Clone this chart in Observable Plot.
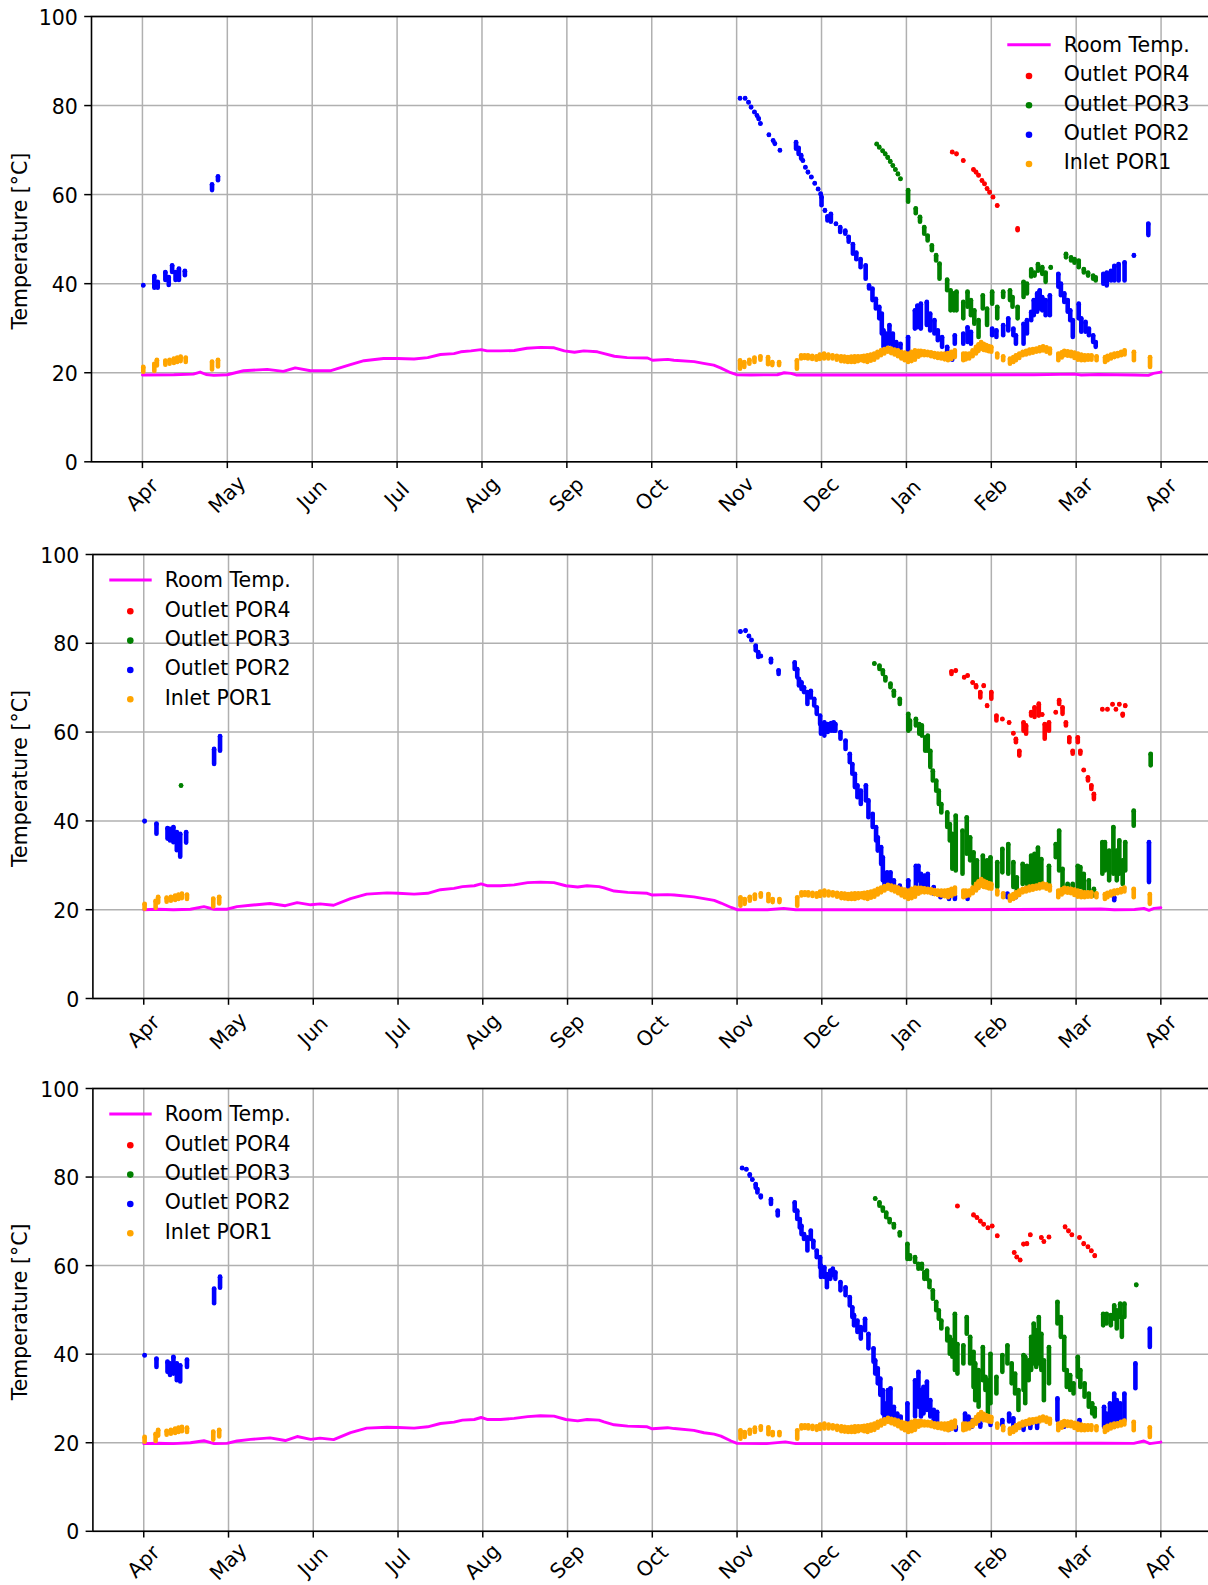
<!DOCTYPE html>
<html>
<head>
<meta charset="utf-8">
<script src="https://cdn.jsdelivr.net/npm/d3@7"></script>
<script src="https://cdn.jsdelivr.net/npm/@observablehq/plot@0.6"></script>
<style>
  html, body { margin: 0; padding: 0; background: #fff; overflow: hidden; }
  #fig { position: relative; width: 1208px; height: 1585px; overflow: hidden; background: #fff; }
  #fig svg { position: absolute; left: 0; }
</style>
</head>
<body>
<div id="fig"></div>
<script>
// x positions are months since 1 April (0 = Apr, 12 = the following Apr)
const monthLabels = ["Apr", "May", "Jun", "Jul", "Aug", "Sep", "Oct", "Nov", "Dec", "Jan", "Feb", "Mar", "Apr"];
const yTicks = [0, 20, 40, 60, 80, 100];
const seriesNames = ["Room Temp.", "Outlet POR4", "Outlet POR3", "Outlet POR2", "Inlet POR1"];
const seriesColors = ["#ff00ff", "#ff0000", "#008000", "#0000ff", "#ffa500"];
const yLabel = "Temperature [°C]";

// Room temperature, one trace per panel: [month, °C]
const roomTemp1 = [[0,19.5],[0.37,19.55],[0.6,19.7],[0.68,20.15],[0.75,19.6],[0.84,19.4],[1.0,19.55],[1.19,20.45],[1.47,20.75],[1.66,20.3],[1.8,21.1],[1.98,20.45],[2.22,20.45],[2.45,21.8],[2.61,22.7],[2.84,23.2],[3.0,23.2],[3.2,23.1],[3.36,23.4],[3.51,24.1],[3.67,24.3],[3.75,24.7],[3.87,24.9],[3.99,25.2],[4.06,24.9],[4.22,24.9],[4.38,25.0],[4.53,25.5],[4.69,25.7],[4.85,25.6],[4.97,24.9],[5.09,24.6],[5.2,24.9],[5.36,24.7],[5.44,24.3],[5.56,23.7],[5.71,23.4],[5.95,23.3],[6.01,22.8],[6.19,23.0],[6.26,22.8],[6.5,22.5],[6.61,22.1],[6.73,21.7],[6.81,21.1],[6.93,20.0],[7.0,19.55],[7.17,19.5],[7.48,19.55],[7.56,20.0],[7.64,19.85],[7.7,19.5],[8.9,19.5],[10.5,19.55],[10.98,19.7],[11.06,19.5],[11.26,19.6],[11.69,19.5],[11.85,19.4],[11.91,19.85],[12.0,20.15]];
const roomTemp2 = [[0,20.0],[0.16,20.1],[0.35,20.0],[0.55,20.1],[0.71,20.7],[0.83,20.1],[0.98,20.1],[1.1,20.7],[1.26,21.0],[1.49,21.4],[1.67,20.9],[1.81,21.6],[1.97,21.1],[2.08,21.3],[2.24,21.0],[2.44,22.5],[2.63,23.5],[2.87,23.8],[3.0,23.7],[3.19,23.5],[3.35,23.7],[3.5,24.5],[3.66,24.8],[3.76,25.2],[3.9,25.4],[3.98,25.8],[4.05,25.4],[4.21,25.4],[4.37,25.6],[4.53,26.1],[4.68,26.2],[4.84,26.1],[4.98,25.4],[5.12,25.1],[5.23,25.4],[5.37,25.2],[5.43,24.9],[5.55,24.2],[5.71,23.9],[5.94,23.7],[6.0,23.3],[6.18,23.4],[6.26,23.3],[6.49,22.9],[6.61,22.5],[6.73,22.1],[6.81,21.5],[6.93,20.5],[7.0,20.0],[7.36,20.0],[7.55,20.3],[7.69,20.0],[9.32,20.0],[10.98,20.1],[11.29,20.15],[11.45,20.0],[11.69,20.05],[11.8,20.3],[11.86,19.85],[11.92,20.3],[12.0,20.45]];
const roomTemp3 = [[0,19.8],[0.16,19.9],[0.35,19.8],[0.55,20.0],[0.71,20.45],[0.83,19.8],[0.98,19.85],[1.1,20.4],[1.26,20.75],[1.49,21.1],[1.67,20.5],[1.81,21.4],[1.97,20.75],[2.08,21.05],[2.24,20.7],[2.44,22.3],[2.63,23.3],[2.87,23.5],[3.0,23.45],[3.19,23.3],[3.35,23.6],[3.5,24.35],[3.66,24.65],[3.76,25.1],[3.9,25.25],[3.98,25.7],[4.05,25.25],[4.21,25.25],[4.37,25.5],[4.53,25.9],[4.68,26.1],[4.84,26.0],[4.98,25.25],[5.12,24.95],[5.23,25.25],[5.37,25.1],[5.43,24.7],[5.55,24.05],[5.71,23.75],[5.94,23.6],[6.0,23.15],[6.18,23.4],[6.26,23.2],[6.49,22.8],[6.61,22.25],[6.73,21.95],[6.81,21.5],[6.93,20.4],[7.0,19.85],[7.35,19.8],[7.57,20.2],[7.69,19.8],[9.32,19.8],[10.97,19.9],[11.29,19.9],[11.68,19.85],[11.8,20.4],[11.87,19.8],[12.0,20.15]];

// Inlet POR1 (same inlet sensor in every panel): [month, high °C, low °C]
const inletPOR1 = [[0.01,21.2,20.1],[0.14,21.9,20.3],[0.17,22.8,21.5],[0.27,22.6,21.7],[0.32,22.8,21.9],[0.37,23.1,22.1],[0.41,23.3,22.3],[0.45,23.5,22.5],[0.51,23.3,22.3],[0.82,22.4,20.6],[0.89,22.8,21.3],
  [7.04,22.7,20.8],[7.09,22.3,21.2],[7.15,22.8,21.9],[7.21,23.3,22.3],[7.28,23.6,22.8],[7.37,23.4,21.8],[7.42,22.3,21.6],[7.5,22.3,21.6],[7.71,22.7,20.8],[7.76,23.8,23.1],[7.8,23.8,23.2],[7.84,23.8,23.1],[7.89,23.7,23.0],[7.94,23.6,22.8],[7.98,24.0,23.0],[8.03,24.2,23.1],[8.08,24.0,23.1],[8.13,23.8,23.1],[8.18,23.7,22.8],[8.23,23.6,22.5],[8.27,23.5,22.4],[8.31,23.4,22.3],[8.35,23.5,22.3],[8.39,23.6,22.3],[8.43,23.6,22.5],[8.47,23.6,22.7],[8.5,23.7,22.5],[8.54,23.8,22.3],[8.58,24.0,22.6],[8.62,24.2,22.8],[8.66,24.6,23.3],[8.7,24.9,23.8],[8.74,25.2,24.2],[8.78,25.5,24.6],[8.82,25.3,24.3],[8.86,25.1,24.0],[8.9,24.9,23.6],[8.94,24.6,23.1],[8.98,24.4,22.7],[9.02,24.2,22.3],[9.06,24.6,22.5],[9.1,24.9,22.8],[9.14,24.8,23.5],[9.17,24.8,23.8],[9.21,24.7,23.8],[9.25,24.6,23.8],[9.29,24.5,23.6],[9.33,24.3,23.4],[9.37,24.2,23.2],[9.41,24.2,23.1],[9.45,24.2,22.9],[9.49,24.3,22.7],[9.53,24.6,23.0],[9.57,24.9,23.4],[9.67,24.2,22.7],[9.7,24.2,22.9],[9.74,24.2,23.1],[9.78,24.9,23.6],[9.82,25.7,24.2],[9.85,26.3,24.8],[9.88,26.8,25.3],[9.91,26.4,25.0],[9.94,26.1,24.9],[9.97,25.9,24.7],[10.0,25.7,24.6],[10.07,24.2,23.3],[10.14,23.6,22.7],[10.22,23.1,21.9],[10.26,23.4,22.3],[10.29,23.8,22.7],[10.33,24.2,23.2],[10.37,24.6,23.8],[10.41,24.8,24.0],[10.45,25.1,24.2],[10.49,25.2,24.4],[10.53,25.3,24.6],[10.57,25.6,24.7],[10.61,25.8,24.9],[10.65,25.6,24.6],[10.69,25.3,24.2],[10.79,24.2,22.7],[10.83,24.5,23.3],[10.86,24.8,23.8],[10.9,24.7,23.7],[10.94,24.6,23.6],[10.98,24.4,23.2],[11.02,24.2,22.8],[11.06,24.0,22.7],[11.1,23.8,22.7],[11.14,23.8,22.8],[11.18,23.8,22.8],[11.24,23.6,22.7],[11.34,23.4,22.3],[11.37,23.7,22.7],[11.41,24.0,23.1],[11.45,24.2,23.4],[11.49,24.3,23.6],[11.53,24.6,23.8],[11.57,24.9,24.0],[11.68,24.6,22.7],[11.87,23.4,21.2]];

// Outlet POR2, per panel: [month, high °C, low °C] (a single value is one reading)
const outletPOR2_1 = [[0.01,39.6],[0.14,41.6,39.0],[0.18,40.3,39.0],[0.27,42.5,40.7],[0.31,41.4,39.6],[0.35,44.0,42.5],[0.39,42.5,40.7],[0.43,43.3,40.7],[0.5,42.8,41.8],[0.82,62.2,60.9],[0.89,64.0,63.1],
  [7.04,81.6],[7.1,81.6],[7.14,80.7],[7.17,79.6],[7.21,78.5],[7.24,77.7],[7.26,77.0],[7.28,75.9],[7.38,73.4],[7.43,72.1],[7.45,71.4],[7.51,69.9],[7.7,71.7,70.2],[7.73,70.4,69.0],[7.76,68.8,68.0],[7.78,67.6],[7.81,66.1],[7.84,65.0],[7.88,63.9],[7.92,62.5],[7.96,61.2],[7.99,60.1],[8.0,59.4,57.5],[8.04,56.4],[8.07,55.0,54.1],[8.11,55.6,53.8],[8.17,53.4],[8.22,52.6,51.5],[8.28,51.8,51.1],[8.32,50.4,49.3],[8.37,48.8,46.6],[8.41,46.9,45.4],[8.46,45.4,43.6],[8.52,44.0,41.0],[8.56,39.5,38.8],[8.6,38.8,36.2],[8.64,36.5,34.3],[8.68,34.7,32.1],[8.71,33.2,28.7],[8.73,29.4,25.7],[8.76,28.7,25.3],[8.8,30.6,26.4],[8.84,28.7,25.7],[8.88,26.8,25.3],[8.93,26.4,25.3],[9.02,27.9,24.9],[9.1,33.9,29.8],[9.13,35.0,30.1],[9.17,35.4,29.8],[9.24,35.8,30.6],[9.28,33.2,29.4],[9.33,31.7,28.7],[9.37,29.4,27.2],[9.42,27.9,25.7],[9.48,25.7,24.6],[9.54,23.8,22.8],[9.57,28.3,26.4],[9.67,28.7,26.4],[9.72,30.1,26.8],[9.76,29.1,26.4],[10.01,29.8,28.3],[10.06,29.4,27.9],[10.14,30.6,28.3],[10.2,32.1,29.4],[10.26,29.8,28.3],[10.29,28.3,26.4],[10.38,30.9,26.4],[10.42,31.7,28.7],[10.47,33.6,31.7],[10.5,36.2,32.8],[10.54,37.7,33.6],[10.57,38.4,34.3],[10.6,36.9,33.9],[10.64,36.2,32.8],[10.69,37.3,32.8],[10.79,42.1,39.2],[10.82,39.9,37.3],[10.86,37.7,35.8],[10.9,36.2,33.6],[10.93,33.9,31.7],[10.96,31.7,27.9],[11.03,35.4,32.1],[11.06,32.1,29.1],[11.11,31.3,29.1],[11.15,29.8,28.3],[11.2,28.3,26.8],[11.23,26.8,25.7],[11.32,42.1,39.9],[11.36,42.4,39.5],[11.41,42.8,40.6],[11.45,43.9,40.6],[11.5,44.3,40.6],[11.57,44.7,40.6],[11.68,46.3],[11.85,53.4,50.8]];
const outletPOR2_2 = [[0.01,39.9],[0.15,39.3,37.0],[0.28,38.3,35.9],[0.31,38.1,35.5],[0.35,38.5,35.1],[0.39,37.4,33.3],[0.43,37.0,31.8],[0.5,37.4,35.0],[0.83,56.1,52.7],[0.9,59.0,55.7],
  [7.04,82.6],[7.1,82.8],[7.14,81.6],[7.17,80.7],[7.22,79.4,78.3],[7.25,77.9,76.8],[7.28,77.1],[7.4,76.4,75.6],[7.49,73.8,73.0],[7.68,75.6,74.1],[7.71,74.1,72.3],[7.73,71.9,70.4],[7.76,71.1,69.6],[7.79,70.0,68.9],[7.83,68.9,66.2],[7.87,69.2,67.7],[7.91,67.4,65.9],[7.94,65.5,64.0],[7.98,63.6,61.7],[7.99,61.7,59.5],[8.03,62.1,59.1],[8.07,61.7,59.9],[8.11,61.9,60.2],[8.14,62.1,60.2],[8.16,61.7,60.2],[8.22,59.9,58.4],[8.28,58.0,56.1],[8.33,55.0,53.1],[8.36,52.7,50.5],[8.39,50.5,47.5],[8.42,47.9,45.2],[8.46,46.7,43.7],[8.52,47.9,44.5],[8.55,44.5,40.7],[8.6,41.5,38.5],[8.64,38.5,35.5],[8.66,36.2,33.2],[8.7,34.0,30.2],[8.72,31.7,26.5],[8.74,28.0,25.3],[8.77,28.3,25.7],[8.81,28.3,25.7],[8.85,26.5,25.0],[8.92,25.3,23.8],[9.02,26.5,22.7],[9.11,29.8,25.0],[9.14,29.8,26.5],[9.17,28.0,25.0],[9.21,27.6,25.0],[9.25,28.0,25.0],[9.32,25.0,23.5],[9.4,23.8,22.7],[9.5,23.5,22.3],[9.57,23.1,22.3],[9.72,23.1,22.3],[10.19,23.5,22.7],[10.29,23.5,22.7],[11.45,22.7,22.0],[11.86,35.1,26.1]];
const outletPOR2_3 = [[0.01,39.7],[0.15,38.9,37.0],[0.28,38.2,35.9],[0.31,37.8,35.2],[0.35,39.3,35.5],[0.39,37.8,34.0],[0.43,37.4,33.7],[0.51,38.7,37.0],[0.83,54.7,51.4],[0.9,57.4,54.9],
  [7.06,82.0],[7.11,81.7],[7.15,80.5,80.2],[7.18,79.4],[7.22,78.3,77.5],[7.24,77.2,76.4],[7.28,75.7,75.3],[7.4,74.9,73.8],[7.48,72.3,71.2],[7.68,74.2,72.3],[7.71,72.3,70.4],[7.74,70.4,68.5],[7.76,68.9,67.0],[7.79,67.0,65.9],[7.83,66.3,63.3],[7.87,67.8,65.9],[7.9,65.5,64.0],[7.94,63.3,61.8],[7.98,61.8,59.5],[7.99,59.9,57.3],[8.03,59.5,57.3],[8.06,58.0,55.0],[8.1,58.8,56.9],[8.13,59.2,57.7],[8.16,58.4,56.9],[8.22,56.2,54.3],[8.28,55.0,53.2],[8.33,52.8,50.9],[8.36,50.5,48.3],[8.38,48.7,46.4],[8.42,47.5,44.9],[8.46,46.0,43.4],[8.51,47.9,45.3],[8.55,44.5,41.2],[8.61,41.2,38.2],[8.63,38.5,35.5],[8.66,36.7,33.3],[8.69,34.4,30.7],[8.72,31.8,26.5],[8.74,28.8,25.4],[8.78,31.8,25.8],[8.81,32.2,25.8],[8.85,28.0,25.4],[8.89,26.5,25.0],[8.93,25.8,24.7],[9.01,28.8,24.3],[9.1,34.0,25.8],[9.14,35.9,28.0],[9.17,31.8,25.8],[9.2,32.5,26.5],[9.24,33.7,27.3],[9.28,29.5,25.8],[9.32,27.3,25.0],[9.36,26.9,24.7],[9.5,23.9,22.8],[9.58,23.5,22.8],[9.69,26.5,24.3],[9.73,25.8,24.7],[9.77,25.0,23.5],[9.87,24.3,23.5],[9.99,24.7,23.9],[10.13,25.0,23.9],[10.21,26.5,24.7],[10.26,25.4,23.2],[10.38,23.5,22.8],[10.46,23.9,23.2],[10.54,24.3,23.2],[10.78,29.9,25.0],[10.86,24.3,23.5],[11.04,25.0,24.3],[11.33,28.0,23.5],[11.36,26.5,23.9],[11.4,28.8,24.3],[11.45,31.0,24.3],[11.48,29.5,24.3],[11.52,28.8,24.7],[11.57,31.0,25.0],[11.7,37.8,32.2],[11.87,45.7,41.5]];

// Outlet POR3, per panel
const outletPOR3_1 = [[8.65,71.3],[8.68,70.6],[8.72,69.8],[8.75,69.1],[8.78,68.3],[8.81,67.4],[8.84,66.5],[8.87,65.6],[8.9,64.6],[8.93,63.5],[9.02,60.9,58.3],[9.11,56.8,55.7],[9.16,54.9,53.8],[9.21,52.6,51.1],[9.25,50.7,49.6],[9.3,48.5,47.4],[9.35,46.3,45.1],[9.39,44.4,41.0],[9.48,40.8,38.4],[9.52,38.4,33.9],[9.56,37.7,33.9],[9.59,38.1,33.9],[9.67,35.8,32.1],[9.72,38.1,34.7],[9.76,36.2,32.8],[9.8,33.9,30.9],[9.85,31.7,27.9],[9.9,37.3,34.3],[9.95,34.3,30.6],[10.01,38.1,35.4],[10.07,34.7,32.1],[10.14,38.1,36.9],[10.22,38.4,36.2],[10.25,36.9,34.7],[10.31,34.7,32.1],[10.38,40.3,36.9],[10.42,39.9,37.7],[10.47,43.1,41.5],[10.51,42.4,41.7],[10.55,44.3,42.8],[10.6,43.6,42.1],[10.64,42.4,40.3],[10.7,43.6],[10.88,46.6,45.8],[10.94,45.8,45.1],[10.98,45.4,44.6],[11.03,45.1,43.6],[11.09,43.2,42.4],[11.14,42.4,41.7],[11.2,41.7,41.0],[11.23,41.3,40.6]];
const outletPOR3_2 = [[0.44,47.9],
  [8.62,75.4],[8.68,74.9,74.1],[8.72,73.8,73.0],[8.75,72.3,71.5],[8.81,70.8,70.0],[8.85,69.2,68.1],[8.92,67.4,66.2],[9.02,64.0,60.2],[9.04,62.5,60.6],[9.11,62.9,61.4],[9.15,61.7,59.5],[9.18,61.4,59.1],[9.22,58.7,55.7],[9.25,59.1,55.7],[9.28,55.7,52.0],[9.31,51.2,49.0],[9.35,49.0,46.7],[9.38,46.7,43.7],[9.41,43.7,41.8],[9.48,41.8,38.5],[9.51,39.2,35.5],[9.54,37.0,29.1],[9.58,41.1,28.7],[9.66,37.7,28.0],[9.71,40.7,32.5],[9.75,36.2,31.0],[9.79,32.8,25.7],[9.83,31.0,25.7],[9.9,32.1,26.5],[9.95,31.0,25.0],[9.99,31.7,25.7],[10.07,30.6,25.0],[10.13,33.6,28.3],[10.2,34.7,28.0],[10.26,30.6,25.0],[10.3,27.2,24.2],[10.37,30.2,25.7],[10.42,29.8,25.7],[10.47,32.1,25.7],[10.51,32.5,25.7],[10.55,33.9,25.7],[10.59,31.3,25.7],[10.68,29.8,25.0],[10.76,34.7,31.7],[10.8,37.7,28.7],[10.84,29.1,25.0],[10.9,25.7,24.2],[10.96,25.7,24.2],[11.02,29.8,25.0],[11.05,29.5,25.0],[11.09,28.0,24.2],[11.15,26.5,23.5],[11.21,24.6,23.1],[11.31,35.1,28.0],[11.34,35.1,28.7],[11.39,33.2,26.5],[11.44,38.5,28.0],[11.48,33.2,26.5],[11.51,35.5,28.0],[11.55,31.0,25.7],[11.58,35.1,28.7],[11.68,42.2,38.8],[11.88,55.0,52.4]];
const outletPOR3_3 = [[8.63,75.1],[8.68,74.2,73.4],[8.72,73.0,72.3],[8.76,71.9,70.8],[8.8,70.4,69.7],[8.85,69.3,68.5],[8.92,67.4,66.7],[9.01,64.8,61.4],[9.04,62.2,61.4],[9.1,61.8,60.7],[9.14,60.3,59.2],[9.18,60.3,59.2],[9.21,58.4,56.9],[9.24,58.8,56.9],[9.27,56.5,55.0],[9.31,54.3,52.4],[9.35,51.7,49.8],[9.38,49.8,47.9],[9.41,47.5,45.7],[9.48,45.7,43.0],[9.51,43.8,40.0],[9.54,43.0,39.3],[9.57,49.0,36.3],[9.6,42.2,35.5],[9.67,41.9,37.8],[9.71,48.3,44.5],[9.75,43.8,37.8],[9.79,40.4,32.5],[9.81,37.8,29.5],[9.85,36.3,28.0],[9.9,41.5,34.0],[9.93,34.8,31.8],[9.96,34.0,26.5],[9.99,40.0,28.8],[10.06,34.8,31.0],[10.13,39.7,35.9],[10.19,41.9,37.8],[10.24,37.8,33.3],[10.28,35.5,31.0],[10.32,31.8,27.3],[10.38,39.7,31.8],[10.4,39.3,28.8],[10.44,38.5,34.0],[10.47,43.8,36.3],[10.5,46.8,37.8],[10.53,45.3,37.0],[10.56,48.3,37.8],[10.59,44.5,36.3],[10.62,38.5,29.5],[10.68,41.5,33.3],[10.78,51.7,46.8],[10.82,48.3,43.8],[10.86,43.8,36.3],[10.89,36.3,32.5],[10.93,35.2,31.8],[10.97,33.3,31.0],[11.02,39.3,34.8],[11.05,36.3,32.5],[11.1,33.3,30.3],[11.15,31.0,28.0],[11.19,28.8,26.5],[11.22,27.7,25.8],[11.32,49.0,46.4],[11.36,49.0,46.8],[11.41,48.7,46.4],[11.45,50.9,47.9],[11.48,49.8,45.7],[11.52,51.3,48.3],[11.54,48.3,43.8],[11.57,51.3,48.3],[11.71,55.6]];

// Outlet POR4, per panel
const outletPOR4_1 = [[9.54,69.5],[9.59,69.1],[9.67,67.6],[9.79,65.6],[9.82,65.0],[9.85,64.3],[9.89,63.1],[9.92,62.4],[9.95,61.3],[9.98,60.5],[10.02,59.4],[10.07,57.5],[10.31,52.3,51.9]];
const outletPOR4_2 = [[9.53,73.6,73.0],[9.58,73.8],[9.68,72.3],[9.72,72.7],[9.78,71.1],[9.82,70.4,70.0],[9.87,68.9,67.7],[9.91,70.4],[9.95,65.9],[10.0,68.9,67.4],[10.06,63.6,62.5],[10.13,62.9],[10.21,62.1],[10.26,59.7],[10.29,58.4,57.6],[10.33,55.7,54.6],[10.38,62.1,60.2],[10.41,61.4,59.5],[10.47,64.4,63.6],[10.51,65.5,63.3],[10.56,66.3,63.6],[10.6,63.9],[10.63,61.7,58.4],[10.68,62.1,60.2],[10.76,64.4],[10.8,67.1,66.2],[10.84,65.5,64.0],[10.88,62.1,61.4],[10.92,58.7,57.6],[10.96,55.7,55.0],[11.02,58.7,57.6],[11.05,55.7,55.0],[11.09,51.4],[11.14,49.7,49.0],[11.18,47.9,47.1],[11.21,46.0,44.8],[11.31,65.1],[11.37,65.1],[11.43,66.2],[11.47,65.1],[11.51,66.2],[11.55,64.0,63.6],[11.58,65.9]];
const outletPOR4_3 = [[9.6,73.4],[9.79,71.4],[9.83,70.8],[9.87,70.0],[9.91,69.3],[9.96,68.5],[10.01,68.9],[10.07,66.7],[10.27,62.9],[10.3,61.9],[10.34,61.2],[10.38,64.8],[10.42,64.9],[10.46,66.9],[10.59,66.3],[10.62,65.4],[10.68,66.4],[10.87,68.7],[10.91,67.8],[10.95,66.9],[11.04,66.3],[11.09,64.9],[11.14,64.2],[11.18,63.3],[11.22,62.2]];

// Panel frames and legend placement (pixels inside each panel's SVG)
const FONT = '"DejaVu Sans", "Liberation Sans", sans-serif';
const FONT_SIZE = 20.5;
const SVG_W = 1212;
const panels = [
  {top: 0, height: 530, x0: 91, x1: 1211.5, yTop: 16, yBottom: 461.3, labelDy: 33,
   room: roomTemp1, por2: outletPOR2_1, por3: outletPOR3_1, por4: outletPOR4_1,
   legend: {line: [1007.3, 1050.7], dotX: 1029, textX: 1063.7, rows: [44.7, 76, 105.3, 134.7, 164]}},
  {top: 537.5, height: 530, x0: 92.4, x1: 1211.2, yTop: 16, yBottom: 460, labelDy: 33,
   room: roomTemp2, por2: outletPOR2_2, por3: outletPOR3_2, por4: outletPOR4_2,
   legend: {line: [109.3, 151.7], dotX: 130.3, textX: 164.7, rows: [42, 73.2, 102.6, 132, 161.3]}},
  {top: 1072.2, height: 512.8, x0: 92.4, x1: 1211.2, yTop: 16, yBottom: 458.8, labelDy: 30.5,
   room: roomTemp3, por2: outletPOR2_3, por3: outletPOR3_3, por4: outletPOR4_3,
   legend: {line: [109.3, 151.7], dotX: 130.3, textX: 164.7, rows: [42, 73.2, 102.6, 132, 161.3]}}
];

const monthTicks = monthLabels.map((_, i) => i);
const px = d => d[0], lo = d => d[1], hi = d => (d[2] ?? d[1]);

function readings(rows, color) {
  return [
    Plot.ruleX(rows, {x: px, y1: lo, y2: hi, stroke: color, strokeWidth: 4.6, strokeLinecap: "round"}),
    Plot.dot(rows, {x: px, y: lo, r: 2.3, fill: color, stroke: "none"})
  ];
}

const fig = document.getElementById("fig");

for (const p of panels) {
  const innerH = p.yBottom - p.yTop;
  const innerW = p.x1 - p.x0;
  const grid = {stroke: "#b0b0b0", strokeOpacity: 1, strokeWidth: 1.5};
  const chart = Plot.plot({
    width: SVG_W,
    height: p.height,
    marginLeft: p.x0,
    marginRight: SVG_W - p.x1,
    marginTop: p.yTop,
    marginBottom: p.height - p.yBottom,
    style: {fontFamily: FONT, fontSize: FONT_SIZE + "px", maxWidth: "none", background: "transparent", overflow: "visible"},
    x: {type: "linear", domain: [-0.6, 12.6], axis: null},
    y: {type: "linear", domain: [0, 100], axis: null},
    marks: [
      // grid
      Plot.ruleX(monthTicks, {x: d => d, ...grid}),
      Plot.ruleY(yTicks, {y: d => d, ...grid}),
      // outward tick marks
      Plot.ruleX(monthTicks, {x: d => d, insetTop: innerH, insetBottom: -6.8, stroke: "#000", strokeWidth: 1.5}),
      Plot.ruleY(yTicks, {y: d => d, insetLeft: -6.8, insetRight: innerW, stroke: "#000", strokeWidth: 1.5}),
      // data
      Plot.line(p.room, {x: px, y: d => d[1], stroke: seriesColors[0], strokeWidth: 2.9, strokeLinejoin: "round"}),
      ...readings(p.por4, seriesColors[1]),
      ...readings(p.por3, seriesColors[2]),
      ...readings(p.por2, seriesColors[3]),
      ...readings(inletPOR1, seriesColors[4]),
      Plot.frame({stroke: "#000", strokeWidth: 1.6}),
      // tick labels and axis title
      Plot.text(yTicks, {y: d => d, text: d => String(d), frameAnchor: "left", dx: -13.6, dy: 1.5,
        textAnchor: "end", lineAnchor: "middle", fontSize: FONT_SIZE, fill: "#000"}),
      Plot.text(monthTicks, {x: d => d, text: d => monthLabels[d], frameAnchor: "bottom", dy: p.labelDy,
        rotate: -45, textAnchor: "middle", lineAnchor: "middle", fontSize: FONT_SIZE, fill: "#000"}),
      Plot.text([yLabel], {text: d => d, frameAnchor: "left", dx: -(p.x0 - 20), dy: 2,
        rotate: -90, textAnchor: "middle", lineAnchor: "middle", fontSize: FONT_SIZE, fill: "#000"})
    ]
  });
  chart.style.position = "absolute";
  chart.style.top = p.top + "px";
  chart.style.left = "0px";
  chart.style.maxWidth = "none";

  // legend drawn inside the axes, without a frame
  const L = p.legend;
  const g = d3.select(chart).append("g")
    .attr("font-family", FONT).attr("font-size", FONT_SIZE).attr("fill", "#000")
    .attr("text-anchor", "start");
  g.append("line")
    .attr("x1", L.line[0]).attr("x2", L.line[1])
    .attr("y1", L.rows[0]).attr("y2", L.rows[0])
    .attr("stroke", seriesColors[0]).attr("stroke-width", 2.9);
  for (let i = 1; i < seriesNames.length; i++) {
    g.append("circle").attr("cx", L.dotX).attr("cy", L.rows[i]).attr("r", 3.3).attr("fill", seriesColors[i]);
  }
  seriesNames.forEach((name, i) => {
    g.append("text")
      .attr("x", L.textX)
      .attr("y", L.rows[i] - (i ? 1.7 : 0))
      .attr("dy", "0.35em")
      .attr("text-anchor", "start")
      .text(name);
  });

  fig.appendChild(chart);
}
</script>
</body>
</html>
